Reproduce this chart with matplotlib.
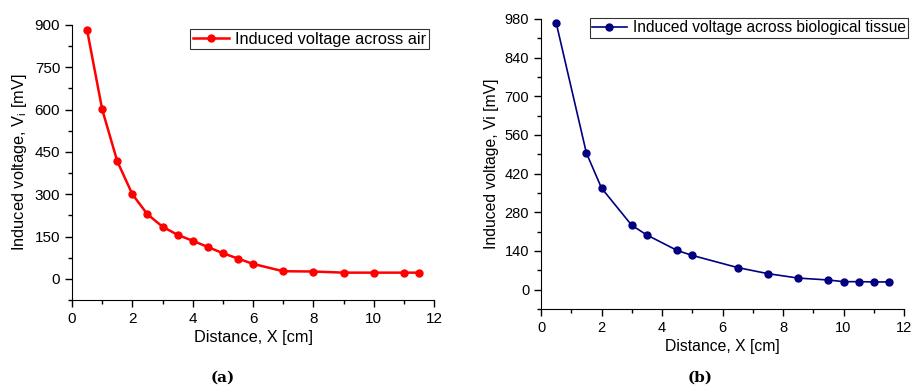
import matplotlib.pyplot as plt
from matplotlib.ticker import MultipleLocator

plt.rcParams['font.family'] = ['Liberation Sans', 'DejaVu Sans']

# Panel (a): air
x_air = [0.5, 1, 1.5, 2, 2.5, 3, 3.5, 4, 4.5, 5, 5.5, 6, 7, 8, 9, 10, 11, 11.5]
v_air = [882, 601, 417, 300, 229, 185, 156, 135, 113, 91, 72, 53, 27, 26, 22, 22, 22, 22]

# Panel (b): biological tissue
x_tis = [0.5, 1.5, 2, 3, 3.5, 4.5, 5, 6.5, 7.5, 8.5, 9.5, 10, 10.5, 11, 11.5]
v_tis = [967, 495, 368, 233, 198, 142, 124, 80, 58, 42, 35, 29, 29, 28, 28]

fig = plt.figure(figsize=(9.22, 3.92), dpi=100)
W, H = 922, 392

def make_axes(l, r, t, b):
    return fig.add_axes([l / W, 1 - b / H, (r - l) / W, (b - t) / H])

def style(ax, ystep, ylim, tsize, lsize):
    for s in ['top', 'right']:
        ax.spines[s].set_visible(False)
    ax.set_xlim(0, 12)
    ax.set_ylim(*ylim)
    ax.xaxis.set_major_locator(MultipleLocator(2))
    ax.xaxis.set_minor_locator(MultipleLocator(1))
    ax.yaxis.set_major_locator(MultipleLocator(ystep))
    ax.yaxis.set_minor_locator(MultipleLocator(ystep / 2))
    ax.tick_params(which='major', direction='out', length=5, width=1, labelsize=tsize)
    ax.tick_params(which='minor', direction='out', length=3, width=1)
    ax.set_xlabel('Distance, X [cm]', fontsize=lsize, labelpad=3)

ax1 = make_axes(72, 434, 25, 300)
ax1.plot(x_air, v_air, color='#ff0000', lw=1.8, marker='o', ms=5,
         label='Induced voltage across air')
style(ax1, 150, (-75, 900), 11, 11.8)
ax1.set_yticks([0, 150, 300, 450, 600, 750, 900])
ax1.set_ylabel('Induced voltage, V$_\\mathregular{i}$ [mV]', fontsize=11.8)
leg1 = ax1.legend(loc='upper right', bbox_to_anchor=(0.986, 0.985), fontsize=11.8,
                  frameon=True, fancybox=False, edgecolor='black', borderaxespad=0,
                  handlelength=2.2, borderpad=0.15, handletextpad=0.4)
leg1.get_frame().set_linewidth(0.8)

ax2 = make_axes(541, 904, 19, 309)
ax2.plot(x_tis, v_tis, color='#000080', lw=1.2, marker='o', ms=5,
         label='Induced voltage across biological tissue')
style(ax2, 140, (-70, 980), 10.5, 11.3)
ax2.set_yticks([0, 140, 280, 420, 560, 700, 840, 980])
ax2.set_ylabel('Induced voltage, Vi [mV]', fontsize=11.3)
leg2 = ax2.legend(loc='upper left', bbox_to_anchor=(0.135, 1.003), fontsize=11.2,
                  frameon=True, fancybox=False, edgecolor='black', borderaxespad=0,
                  handlelength=2.2, borderpad=0.15, handletextpad=0.4)
leg2.get_frame().set_linewidth(0.8)

fig.text(223 / W, 1 - 378 / H, '(a)', ha='center', va='center',
         fontsize=11, fontweight='bold', family='DejaVu Serif')
fig.text(700 / W, 1 - 378 / H, '(b)', ha='center', va='center',
         fontsize=11, fontweight='bold', family='DejaVu Serif')

fig.savefig('out.png', dpi=100)
